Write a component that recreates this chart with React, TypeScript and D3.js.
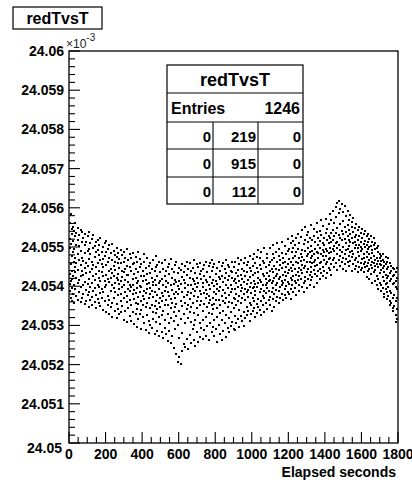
import * as d3 from "d3";

// readings per sampled time column: [elapsed seconds, readings above 24.05 in units of 1e-3]
const EARLY: [number, number[]][] = [
  [3, [5.62, 4.31, 3.88, 4.97, 5.21, 4.05]],
  [9, [5.83, 4.56, 4.12, 3.71, 5.08]],
  [14, [5.34, 4.78, 3.95, 4.4, 5.47, 4.19, 3.63]],
  [21, [4.88, 5.52, 4.27, 3.8, 5.15]],
  [27, [5.41, 4.63, 4.02, 4.95, 3.58]],
  [34, [4.71, 5.27, 3.92, 4.36, 5.6, 4.48]],
  [41, [5.05, 3.74, 4.59, 4.21, 5.36]],
  [48, [4.42, 5.18, 3.66, 4.83, 4.08, 5.49]],
  [56, [5.31, 4.17, 3.85, 4.67, 5.02]],
  [63, [4.54, 3.59, 5.44, 4.26, 4.91, 3.97]],
  [71, [5.12, 4.73, 3.69, 4.38, 5.39]],
  [79, [4.29, 5.23, 3.81, 4.64, 4.02]],
  [86, [5.06, 3.55, 4.47, 4.85, 5.33, 4.11]],
  [94, [4.6, 3.91, 5.14, 4.33, 3.62]],
  [102, [5.28, 4.52, 3.78, 4.05, 4.89]],
  [109, [4.18, 4.96, 3.48, 4.7, 5.37, 3.86]],
  [117, [4.81, 3.99, 4.37, 5.1, 3.64]],
  [125, [4.43, 5.21, 3.73, 4.62, 4.07, 3.52]],
  [133, [4.98, 4.25, 3.87, 5.3, 4.55]],
  [140, [3.6, 4.74, 4.16, 5.02, 3.95]],
  [148, [4.49, 5.13, 3.77, 4.31, 4.86, 3.45]],
  [156, [4.92, 3.68, 4.58, 4.03, 5.19]],
  [164, [4.22, 4.79, 3.56, 3.98, 5.06, 4.4]],
  [172, [4.67, 3.83, 5.24, 4.12, 3.49]],
  [180, [4.35, 4.88, 3.71, 4.57, 3.92]],
  [188, [5.01, 4.26, 3.4, 4.69, 3.85, 4.48]],
  [196, [4.14, 4.76, 3.63, 5.09, 3.97]],
  [204, [4.53, 3.34, 4.87, 4.02, 4.29, 5.15]],
  [212, [3.76, 4.61, 4.18, 4.95, 3.52]],
  [220, [4.38, 5.04, 3.65, 4.1, 3.29, 4.72]],
  [228, [4.84, 3.88, 4.45, 3.46, 4.21]],
  [236, [5.08, 4.02, 3.58, 4.66, 4.33, 3.22]],
  [244, [4.27, 4.91, 3.71, 3.95, 4.52]],
  [252, [3.37, 4.63, 4.09, 4.8, 3.84, 4.41]],
  [260, [4.74, 3.55, 4.22, 3.19, 4.97]],
  [268, [4.15, 3.78, 4.58, 3.43, 4.3, 4.85]],
  [276, [3.92, 4.47, 3.28, 4.7, 4.06]],
  [284, [4.58, 3.63, 4.13, 3.81, 4.92, 3.35]],
  [292, [4.24, 3.5, 4.79, 3.97, 4.4]],
  [300, [3.71, 4.61, 3.14, 4.35, 4.03, 4.86]],
  [308, [4.44, 3.86, 3.38, 4.17, 4.73]],
  [316, [3.59, 4.29, 4.96, 3.75, 3.09, 4.52]],
  [324, [4.1, 3.45, 4.67, 3.93, 4.28]],
  [332, [4.81, 3.66, 4.04, 3.24, 4.49, 3.88]],
  [340, [3.99, 4.38, 3.52, 4.72, 3.12]],
  [348, [4.56, 3.79, 4.19, 3.35, 4.03, 4.84]],
  [356, [3.68, 4.31, 3.04, 4.6, 3.91]],
  [364, [4.22, 3.57, 4.75, 3.83, 3.28, 4.45]],
  [372, [3.95, 4.62, 3.41, 4.08, 2.96]],
  [380, [4.36, 3.72, 4.88, 3.17, 4.14, 3.54]],
  [388, [3.86, 4.49, 3.3, 4.01, 4.69]],
  [396, [4.27, 3.61, 2.92, 3.98, 4.57, 3.39]],
  [404, [3.76, 4.4, 3.21, 4.12, 3.53]],
  [412, [4.63, 3.89, 3.06, 4.25, 3.67, 4.81]],
  [420, [3.47, 4.16, 3.83, 2.88, 4.46]],
  [428, [4.05, 3.58, 4.71, 3.26, 3.94, 4.3]],
  [436, [3.69, 4.52, 3.12, 4.08, 2.81]],
  [444, [4.34, 3.8, 3.44, 4.6, 3.01, 3.96]],
  [452, [3.53, 4.21, 3.87, 2.93, 4.44]],
  [460, [4.11, 3.35, 4.67, 3.72, 3.16, 4.02]],
  [468, [3.84, 4.38, 2.78, 3.49, 4.15]],
  [476, [4.49, 3.63, 3.09, 4.03, 3.31, 4.77]],
  [484, [3.41, 4.26, 3.78, 2.86, 4.55]],
  [492, [4.07, 3.56, 4.63, 3.22, 3.93, 2.72]],
  [500, [3.71, 4.35, 3.04, 4.12, 3.46]],
  [508, [4.58, 3.82, 3.27, 2.82, 4.19, 3.61]],
  [516, [3.37, 4.04, 4.45, 2.69, 3.75]],
  [524, [4.27, 3.52, 3.14, 4.66, 3.89, 2.94]],
  [532, [3.64, 4.13, 2.77, 3.98, 4.4]],
  [540, [4.49, 3.29, 3.86, 2.61, 4.08, 3.53]],
  [548, [3.76, 4.31, 3.07, 4.57, 2.85]],
  [556, [4.02, 3.44, 4.7, 3.19, 3.67, 2.56]],
  [564, [3.58, 4.21, 2.74, 3.91, 4.44]],
  [572, [4.36, 3.33, 3.81, 2.43, 4.05, 3.12]],
  [580, [3.69, 4.53, 2.91, 3.47, 4.17]],
  [588, [4.11, 3.24, 2.28, 3.86, 4.62, 3.55]],
  [596, [3.79, 4.33, 2.07, 3.02, 4.01]],
];

const MIDDLE: [number, number[]][] = [
  [604, [4.47, 3.38, 2.19, 3.92, 2.68, 4.14]],
  [612, [3.61, 4.06, 2.02, 3.17, 4.41]],
  [620, [4.24, 3.49, 2.35, 3.84, 2.81, 4.56]],
  [628, [3.73, 4.15, 2.53, 3.28, 4.37]],
  [636, [4.52, 3.58, 3.05, 3.96, 2.44, 4.08]],
  [644, [3.41, 4.29, 2.66, 3.77, 4.63]],
  [652, [4.03, 3.52, 3.18, 4.45, 2.39, 3.86]],
  [660, [3.67, 4.21, 2.76, 3.35, 4.58]],
  [668, [4.38, 3.82, 2.55, 3.09, 4.02, 3.46]],
  [676, [3.56, 4.47, 2.91, 3.93, 4.19]],
  [684, [4.12, 3.31, 2.62, 3.74, 4.66, 3.02]],
  [692, [3.89, 4.34, 3.14, 2.47, 4.05]],
  [700, [4.57, 3.63, 2.83, 3.44, 4.21, 3.97]],
  [708, [3.72, 4.09, 2.58, 3.26, 4.48]],
  [716, [4.31, 3.51, 3.05, 3.88, 2.71, 4.6]],
  [724, [3.61, 4.18, 2.94, 3.79, 4.39]],
  [732, [4.44, 3.37, 2.66, 3.99, 3.15, 4.07]],
  [740, [3.83, 4.26, 2.88, 3.54, 4.53]],
  [748, [4.15, 3.69, 3.21, 2.74, 4.62, 3.91]],
  [756, [3.47, 4.35, 2.99, 3.81, 4.1]],
  [764, [4.51, 3.75, 3.32, 2.62, 4.02, 3.58]],
  [772, [3.93, 4.23, 3.06, 3.64, 4.58]],
  [780, [4.39, 3.52, 2.84, 4.08, 3.28, 4.66]],
  [788, [3.71, 4.17, 3.41, 2.97, 4.48]],
  [796, [4.57, 3.86, 3.13, 4.01, 3.55, 2.73]],
  [804, [3.64, 4.31, 2.9, 3.79, 4.12]],
  [812, [4.46, 3.44, 3.22, 4.05, 2.58, 3.92]],
  [820, [3.87, 4.62, 3.02, 3.66, 4.24]],
  [828, [4.18, 3.53, 2.79, 4.39, 3.31, 3.98]],
  [836, [3.74, 4.27, 3.15, 2.63, 4.51]],
  [844, [4.59, 3.91, 3.38, 4.1, 2.86, 3.62]],
  [852, [3.58, 4.43, 3.07, 3.83, 4.21]],
  [860, [4.34, 3.69, 2.71, 4.02, 3.26, 4.67]],
  [868, [3.95, 4.15, 3.48, 2.94, 4.54]],
  [876, [4.48, 3.77, 3.19, 4.26, 3.6, 2.82]],
  [884, [3.85, 4.4, 3.33, 4.03, 2.99]],
  [892, [4.22, 3.56, 4.61, 3.09, 3.92, 4.37]],
  [900, [3.71, 4.49, 2.91, 3.45, 4.12]],
  [908, [4.63, 3.94, 3.24, 4.18, 3.67, 2.87]],
  [916, [3.81, 4.33, 3.52, 4.07, 3.05]],
  [924, [4.41, 3.62, 4.72, 3.17, 3.98, 4.25]],
  [932, [3.74, 4.56, 3.39, 2.96, 4.14]],
  [940, [4.29, 3.88, 4.67, 3.23, 3.56, 4.03]],
  [948, [3.96, 4.45, 3.11, 3.7, 4.19]],
  [956, [4.58, 3.79, 3.34, 4.11, 2.99, 4.38]],
  [964, [3.66, 4.27, 3.92, 3.18, 4.71]],
  [972, [4.36, 3.84, 3.47, 4.05, 3.26, 4.53]],
  [980, [3.91, 4.62, 3.38, 4.17, 3.73]],
  [988, [4.47, 3.58, 4.23, 3.12, 3.99, 4.78]],
  [996, [3.82, 4.39, 3.51, 4.08, 3.29]],
  [1004, [4.69, 3.95, 3.36, 4.28, 3.71, 4.52]],
  [1012, [3.63, 4.14, 4.83, 3.44, 3.97]],
  [1020, [4.34, 3.77, 4.59, 3.21, 4.06, 3.88]],
  [1028, [3.99, 4.46, 3.55, 4.75, 3.31]],
  [1036, [4.21, 3.68, 4.93, 3.46, 4.09, 4.37]],
  [1044, [3.85, 4.55, 3.39, 4.16, 4.72]],
  [1052, [4.43, 3.94, 3.62, 4.87, 3.27, 4.11]],
  [1060, [3.76, 4.31, 4.02, 3.53, 4.64]],
  [1068, [4.58, 3.87, 4.25, 3.35, 4.97, 3.69]],
  [1076, [4.04, 4.49, 3.58, 4.18, 3.82]],
  [1084, [4.71, 3.96, 4.34, 3.43, 4.82, 4.07]],
  [1092, [3.64, 4.27, 4.53, 3.89, 4.12]],
  [1100, [4.39, 3.73, 4.98, 3.52, 4.16, 4.61]],
  [1108, [4.08, 4.66, 3.84, 3.37, 4.44]],
  [1116, [4.81, 4.13, 3.67, 4.35, 3.95, 5.04]],
  [1124, [3.79, 4.52, 4.21, 3.48, 4.73]],
  [1132, [4.27, 3.91, 4.87, 3.62, 4.45, 4.03]],
  [1140, [4.63, 4.07, 3.73, 5.09, 4.31]],
  [1148, [3.88, 4.41, 4.19, 3.56, 4.77, 4.96]],
  [1156, [4.55, 3.98, 4.68, 3.69, 4.24]],
  [1164, [4.12, 4.85, 3.81, 4.47, 5.13, 4.02]],
  [1172, [4.73, 4.29, 3.64, 4.09, 4.58]],
  [1180, [3.93, 4.62, 5.02, 4.17, 3.77, 4.36]],
  [1188, [4.48, 4.01, 4.83, 3.71, 4.25]],
  [1196, [4.91, 4.33, 3.86, 4.57, 5.21, 4.11]],
];

const LATE: [number, number[]][] = [
  [1204, [4.05, 4.69, 3.79, 4.42, 4.94]],
  [1212, [4.63, 4.21, 5.09, 3.92, 4.47, 3.68]],
  [1220, [4.38, 4.86, 4.03, 5.28, 4.15]],
  [1228, [3.84, 4.54, 4.97, 4.26, 4.71, 5.15]],
  [1236, [4.77, 4.12, 4.43, 3.96, 5.04]],
  [1244, [4.29, 5.22, 4.61, 3.78, 4.88, 4.07]],
  [1252, [4.95, 4.36, 4.16, 5.34, 4.58]],
  [1260, [4.02, 4.73, 5.11, 4.47, 3.89, 4.27]],
  [1268, [4.64, 5.26, 4.19, 4.83, 4.41]],
  [1276, [4.33, 4.92, 3.97, 5.43, 4.55, 4.74]],
  [1284, [5.07, 4.46, 4.08, 4.68, 3.86]],
  [1292, [4.52, 5.17, 4.24, 4.89, 5.52, 4.13]],
  [1300, [4.76, 4.35, 5.31, 3.95, 4.61]],
  [1308, [4.18, 4.97, 4.44, 5.12, 4.82, 5.38]],
  [1316, [4.87, 4.29, 4.63, 5.24, 4.04]],
  [1324, [4.49, 5.03, 4.15, 5.56, 4.71, 4.36]],
  [1332, [5.19, 4.58, 4.91, 4.24, 4.78]],
  [1340, [4.42, 4.83, 5.29, 3.99, 5.45, 4.63]],
  [1348, [4.95, 4.31, 5.13, 4.67, 4.52]],
  [1356, [4.26, 4.88, 5.37, 4.54, 5.61, 4.09]],
  [1364, [5.06, 4.71, 4.38, 5.24, 4.84]],
  [1372, [4.58, 5.42, 4.19, 4.97, 5.15, 4.45]],
  [1380, [4.82, 5.31, 4.63, 4.34, 5.68]],
  [1388, [5.11, 4.49, 4.92, 5.53, 4.27, 4.76]],
  [1396, [4.66, 5.22, 4.39, 5.04, 4.87]],
  [1404, [5.35, 4.78, 4.21, 5.72, 4.95, 4.56]],
  [1412, [4.91, 5.47, 4.61, 5.18, 4.33]],
  [1420, [4.47, 5.09, 5.58, 4.84, 5.29, 4.69]],
  [1428, [5.23, 4.72, 5.84, 4.42, 4.98]],
  [1436, [4.86, 5.36, 4.57, 5.12, 5.69, 4.28]],
  [1444, [5.44, 4.95, 4.66, 5.91, 5.17]],
  [1452, [4.73, 5.28, 5.03, 4.49, 5.62, 4.89]],
  [1460, [5.09, 5.76, 4.58, 5.35, 6.02]],
  [1468, [4.82, 5.49, 5.14, 4.41, 6.11, 4.97]],
  [1476, [5.31, 4.68, 5.87, 5.06, 6.18]],
  [1484, [4.93, 5.58, 4.52, 5.24, 5.96, 4.76]],
  [1492, [5.42, 6.09, 4.87, 5.17, 4.61]],
  [1500, [4.99, 5.67, 5.33, 4.44, 5.89, 4.72]],
  [1508, [5.21, 4.83, 5.52, 6.04, 4.57]],
  [1516, [4.69, 5.38, 5.11, 5.78, 4.92, 4.39]],
  [1524, [5.56, 4.96, 5.27, 4.63, 5.93]],
  [1532, [4.78, 5.44, 5.02, 4.51, 5.69, 5.19]],
  [1540, [5.13, 4.65, 5.81, 4.87, 5.34]],
  [1548, [4.91, 5.51, 4.38, 5.22, 4.74, 5.63]],
  [1556, [5.37, 4.82, 5.09, 4.56, 5.74]],
  [1564, [4.67, 5.26, 4.97, 5.48, 4.43, 5.12]],
  [1572, [5.04, 4.73, 5.59, 4.52, 5.31]],
  [1580, [4.86, 5.43, 4.61, 5.17, 4.98, 4.36]],
  [1588, [5.28, 4.77, 5.06, 4.49, 5.52]],
  [1596, [4.58, 5.14, 4.89, 5.36, 4.42, 5.01]],
  [1604, [5.22, 4.69, 4.94, 4.47, 5.47]],
  [1612, [4.81, 5.33, 4.56, 5.08, 4.35, 4.72]],
  [1620, [5.16, 4.63, 4.99, 5.41, 4.48]],
  [1628, [4.74, 5.27, 4.52, 4.87, 4.24, 5.05]],
  [1636, [5.12, 4.58, 4.95, 4.38, 5.34]],
  [1644, [4.66, 5.21, 4.83, 4.43, 4.99, 4.19]],
  [1652, [5.03, 4.54, 5.29, 4.71, 4.31]],
  [1660, [4.85, 4.47, 5.14, 4.62, 4.08, 4.93]],
  [1668, [4.59, 5.06, 4.36, 4.77, 5.22]],
  [1676, [4.95, 4.42, 4.68, 4.14, 5.11, 4.51]],
  [1684, [4.73, 4.27, 4.98, 4.56, 4.04]],
  [1692, [4.49, 4.86, 4.18, 4.65, 3.94, 5.02]],
  [1700, [4.81, 4.33, 4.57, 4.09, 4.72]],
  [1708, [4.41, 4.76, 4.02, 4.55, 3.87, 4.64]],
  [1716, [4.68, 4.23, 4.47, 3.96, 4.83]],
  [1724, [4.36, 4.61, 3.81, 4.14, 4.52, 3.72]],
  [1732, [4.57, 4.05, 4.74, 3.92, 4.29]],
  [1740, [4.21, 4.44, 3.67, 4.08, 4.62, 3.85]],
  [1748, [4.49, 3.97, 4.26, 3.76, 4.71]],
  [1756, [4.12, 4.58, 3.62, 3.89, 4.34, 3.51]],
  [1764, [4.38, 3.83, 4.18, 3.58, 4.52]],
  [1772, [4.05, 4.47, 3.44, 3.71, 4.26, 3.36]],
  [1780, [4.29, 3.78, 4.09, 3.49, 4.43]],
  [1788, [3.97, 4.35, 3.27, 3.62, 4.14, 3.08]],
  [1795, [4.21, 3.71, 3.94, 3.41, 4.46, 3.16]],
];

const X_TICKS = [0, 200, 400, 600, 800, 1000, 1200, 1400, 1600, 1800];
const Y_TICKS = [24.05, 24.051, 24.052, 24.053, 24.054, 24.055, 24.056, 24.057, 24.058, 24.059, 24.06];
const Y_LABELS = ["24.05", "24.051", "24.052", "24.053", "24.054", "24.055", "24.056", "24.057", "24.058", "24.059", "24.06"];

const STATS_TITLE = "redTvsT";
const ENTRIES = 1246;
const STATS_GRID = [
  [0, 219, 0],
  [0, 915, 0],
  [0, 112, 0],
];

const W = 412;
const H = 484;
const left = 69;
const right = 398;
const top = 51;
const bottom = 443;
const FONT = "'Liberation Sans', Arial, Helvetica, sans-serif";

export default function App() {
  const x = d3.scaleLinear().domain([0, 1800]).range([left, right]);
  const y = d3.scaleLinear().domain([24.05, 24.06]).range([bottom, top]);

  const points = [...EARLY, ...MIDDLE, ...LATE]
    .flatMap(([t, vals]) => vals.map((v) => ({ t, v: 24.05 + v / 1000 })))
    .filter((p) => p.v >= 24.05 && p.v <= 24.06);

  const xMinor = d3.range(0, 1801, 50);
  const yMinor = d3.range(0, 51).map((i) => 24.05 + i * 0.0002);

  // stats box geometry
  const sx0 = 167, sx1 = 303;
  const rows = [65, 93, 122, 149, 177, 204];
  const cols = [167, 213, 258, 303];

  return (
    <div style={{ position: "absolute", left: 0, top: 0 }}>
      <svg width={W} height={H} style={{ display: "block", background: "#fff" }} fontFamily={FONT}>
        {/* title box */}
        <rect x={13} y={7} width={89} height={22} fill="#fff" stroke="#000" strokeWidth={1.2} />
        <text x={57.5} y={23.5} textAnchor="middle" fontSize={16} fontWeight="bold">
          redTvsT
        </text>

        {/* points */}
        <g fill="#000">
          {points.map((p, i) => (
            <rect key={i} x={Math.round(x(p.t)) - 1} y={Math.round(y(p.v)) - 1} width={2} height={2} />
          ))}
        </g>

        {/* frame */}
        <rect x={left} y={top} width={right - left} height={bottom - top} fill="none" stroke="#000" strokeWidth={1.3} />

        {/* y ticks */}
        {yMinor.map((v, i) => (
          <line key={"ym" + i} x1={left} x2={left + (i % 5 === 0 ? 11 : 6)} y1={y(v)} y2={y(v)} stroke="#000" strokeWidth={1.1} />
        ))}
        {Y_TICKS.map((v, i) => (
          <text
            key={"yl" + i}
            x={i === 0 ? 62 : 64}
            y={i === 0 ? y(v) + 10 : y(v) + 5}
            textAnchor="end"
            fontSize={14}
            fontWeight="bold"
          >
            {Y_LABELS[i]}
          </text>
        ))}
        <text x={66} y={48} fontSize={12} fill="#222">
          ×10
          <tspan dy={-7} fontSize={10}>-3</tspan>
        </text>

        {/* x ticks */}
        {xMinor.map((t, i) => (
          <line key={"xm" + i} x1={x(t)} x2={x(t)} y1={bottom} y2={bottom - (i % 4 === 0 ? 11 : 6)} stroke="#000" strokeWidth={1.1} />
        ))}
        {X_TICKS.map((t) => (
          <text key={"xl" + t} x={x(t)} y={459} textAnchor="middle" fontSize={14} fontWeight="bold">
            {t}
          </text>
        ))}
        <text x={396} y={477} textAnchor="end" fontSize={14} fontWeight="bold">
          Elapsed seconds
        </text>

        {/* stats box */}
        <rect x={sx0} y={rows[0]} width={sx1 - sx0} height={rows[5] - rows[0]} fill="#fff" stroke="#000" strokeWidth={1.2} />
        {rows.slice(1, 5).map((r, i) => (
          <line key={"sr" + i} x1={sx0} x2={sx1} y1={r} y2={r} stroke="#000" strokeWidth={1.1} />
        ))}
        {[cols[1], cols[2]].map((c, i) => (
          <line key={"sc" + i} x1={c} x2={c} y1={rows[2]} y2={rows[5]} stroke="#000" strokeWidth={1.1} />
        ))}
        <text x={(sx0 + sx1) / 2} y={86} textAnchor="middle" fontSize={18} fontWeight="bold">
          {STATS_TITLE}
        </text>
        <text x={171} y={114} fontSize={16} fontWeight="bold">
          Entries
        </text>
        <text x={300} y={114} textAnchor="end" fontSize={16} fontWeight="bold">
          {ENTRIES}
        </text>
        {STATS_GRID.map((row, r) =>
          row.map((val, c) => (
            <text
              key={"g" + r + c}
              x={cols[c + 1] - 2}
              y={rows[r + 2] + 20}
              textAnchor="end"
              fontSize={15}
              fontWeight="bold"
            >
              {val}
            </text>
          ))
        )}
      </svg>
    </div>
  );
}
